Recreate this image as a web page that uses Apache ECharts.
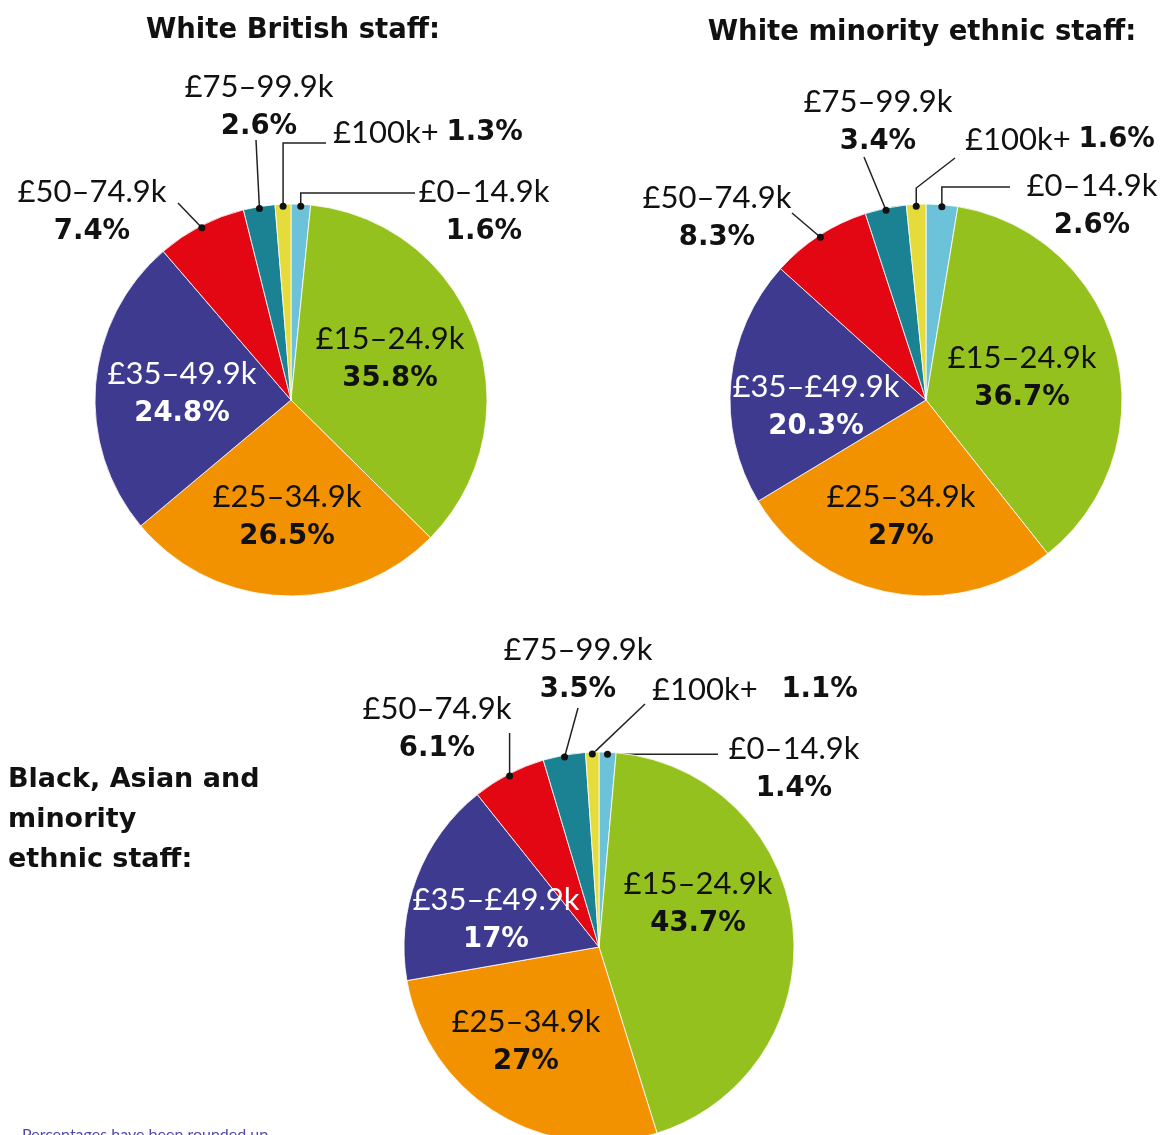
<!DOCTYPE html>
<html>
<head>
<meta charset="utf-8">
<script src="https://cdn.jsdelivr.net/npm/echarts@6/dist/echarts.min.js"></script>
<style>
html, body { margin: 0; padding: 0; background: #fff; }
#box01 { width: 1170px; height: 1135px; }
</style>
</head>
<body>
<div id="box01"></div>
<script>
// salary bands, clockwise from 12 o'clock
var categories = ['£0–14.9k', '£15–24.9k', '£25–34.9k', '£35–49.9k', '£50–74.9k', '£75–99.9k', '£100k+'];
var categoriesMinority = ['£0–14.9k', '£15–24.9k', '£25–34.9k', '£35–£49.9k', '£50–74.9k', '£75–99.9k', '£100k+'];
var whiteBritish = [1.6, 35.8, 26.5, 24.8, 7.4, 2.6, 1.3];
var whiteMinority = [2.6, 36.7, 27, 20.3, 8.3, 3.4, 1.6];
var bame = [1.4, 43.7, 27, 17, 6.1, 3.5, 1.1];
var colors = ['#6cc2d8', '#95c11f', '#f39200', '#3e3a8f', '#e30613', '#1b8294', '#e5dc3c'];

var pies = [
    {cx: 291, cy: 400, r: 196, names: categories, values: whiteBritish, sep: ' '},
    {cx: 926, cy: 400, r: 196, names: categoriesMinority, values: whiteMinority, sep: ' '},
    {cx: 599, cy: 947, r: 195, names: categoriesMinority, values: bame, sep: '   '}
];

// label anchors; bends with null x follow the dot straight up
var labelPos = [
    {
        0: {x: 484, y: 212, bends: [[null, 193], [415, 193]]},
        1: {x: 390, y: 359},
        2: {x: 287, y: 517},
        3: {x: 182, y: 394},
        4: {x: 92, y: 212, bends: [[178, 203]]},
        5: {x: 259, y: 107, bends: [[256, 140]]},
        6: {x: 333, y: 133, align: 'left', bends: [[null, 143], [326, 143]]}
    },
    {
        0: {x: 1092, y: 206, bends: [[null, 187], [1010, 187]]},
        1: {x: 1022, y: 378},
        2: {x: 901, y: 517},
        3: {x: 816, y: 407},
        4: {x: 717, y: 218, bends: [[792, 213]]},
        5: {x: 878, y: 122, bends: [[864, 157]]},
        6: {x: 965, y: 140, align: 'left', bends: [[null, 188], [955, 158]]}
    },
    {
        0: {x: 794, y: 769, bends: [[718, null]]},
        1: {x: 698, y: 904},
        2: {x: 526, y: 1042},
        3: {x: 496, y: 920},
        4: {x: 437, y: 729, bends: [[null, 733]]},
        5: {x: 578, y: 670, bends: [[578, 708]]},
        6: {x: 652, y: 690, align: 'left', bends: [[645, 704]]}
    }
];

function dotPoint(si, di) {
    var p = pies[si];
    var sum = 0, before = 0;
    for (var i = 0; i < p.values.length; i++) {
        sum += p.values[i];
        if (i < di) before += p.values[i];
    }
    var a = (before + p.values[di] / 2) / sum * Math.PI * 2;
    var rr = p.r - 2;
    return [p.cx + rr * Math.sin(a), p.cy - rr * Math.cos(a)];
}

var nameFont = 'Lato';
var boldFont = '"DejaVu Sans"';
var rich = {
    n: {fontFamily: nameFont, fontSize: 31, color: '#111', lineHeight: 40},
    v: {fontFamily: boldFont, fontSize: 27.5, fontWeight: 'bold', color: '#111', lineHeight: 40},
    nw: {fontFamily: nameFont, fontSize: 31, color: '#fff', lineHeight: 40},
    vw: {fontFamily: boldFont, fontSize: 27.5, fontWeight: 'bold', color: '#fff', lineHeight: 40}
};

function buildSeries(si) {
    var p = pies[si];
    var data = [];
    for (var i = 0; i < p.values.length; i++) {
        var inside = (i >= 1 && i <= 3);
        data.push({
            name: p.names[i],
            value: p.values[i],
            itemStyle: {color: colors[i]},
            label: {position: inside ? 'inside' : 'outside'},
            labelLine: {show: !inside}
        });
    }
    return {
        type: 'pie',
        center: [p.cx, p.cy],
        radius: [0, p.r],
        startAngle: 90,
        clockwise: true,
        avoidLabelOverlap: false,
        silent: true,
        animation: false,
        itemStyle: {borderColor: '#ffffff', borderWidth: 0.8},
        label: {
            show: true,
            rich: rich,
            formatter: function (params) {
                var val = params.value + '%';
                if (params.dataIndex === 6) return '{n|' + params.name + p.sep + '}{v|' + val + '}';
                if (params.dataIndex === 3) return '{nw|' + params.name + '}\n{vw|' + val + '}';
                return '{n|' + params.name + '}\n{v|' + val + '}';
            }
        },
        labelLine: {show: true, length: 10, length2: 10, lineStyle: {color: '#222', width: 1.5}},
        labelLayout: function (params) {
            var pos = labelPos[params.seriesIndex][params.dataIndex];
            var out = {x: pos.x, y: pos.y, align: pos.align || 'center', verticalAlign: 'middle'};
            if (pos.bends) {
                var d = dotPoint(params.seriesIndex, params.dataIndex);
                var pts = [d];
                pos.bends.forEach(function (b) {
                    pts.push([b[0] == null ? d[0] : b[0], b[1] == null ? d[1] : b[1]]);
                });
                out.labelLinePoints = pts;
            }
            return out;
        },
        data: data
    };
}

// dots at the start of each leader line
var dots = [];
labelPos.forEach(function (lp, si) {
    Object.keys(lp).forEach(function (k) {
        if (!lp[k].bends) return;
        var d = dotPoint(si, +k);
        dots.push({type: 'circle', shape: {cx: d[0], cy: d[1], r: 3.5}, style: {fill: '#111'}, z: 100, silent: true});
    });
});

var myChart = echarts.init(document.getElementById('box01'));
var titleStyle = {fontFamily: boldFont, fontSize: 27.5, fontWeight: 'bold', color: '#111', lineHeight: 34};
var option = {
    backgroundColor: '#ffffff',
    animation: false,
    title: [
        {text: 'White British staff:', left: 293, top: 14, padding: 0, textAlign: 'center', textStyle: titleStyle},
        {text: 'White minority ethnic staff:', left: 922, top: 16, padding: 0, textAlign: 'center', textStyle: titleStyle},
        {text: 'Black, Asian and\nminority\nethnic staff:', left: 8, top: 760, padding: 0,
            textStyle: {fontFamily: boldFont, fontSize: 27, fontWeight: 'bold', color: '#111', lineHeight: 40}},
        {text: 'Percentages have been rounded up', left: 22, top: 1127, padding: 0,
            textStyle: {fontFamily: 'Lato', fontSize: 16, fontWeight: 'normal', color: '#5048b0'}}
    ],
    graphic: dots,
    series: [buildSeries(0), buildSeries(1), buildSeries(2)]
};
myChart.setOption(option);
</script>
</body>
</html>
